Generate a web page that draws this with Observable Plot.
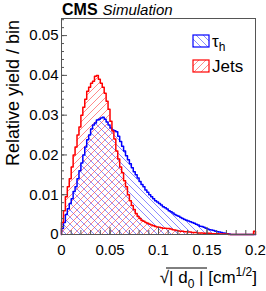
<!DOCTYPE html>
<html><head><meta charset="utf-8">
<script src="https://cdn.jsdelivr.net/npm/d3@7"></script>
<script src="https://cdn.jsdelivr.net/npm/@observablehq/plot@0.6"></script>
<style>body{margin:0;background:#fff}svg{display:block}</style>
</head><body><div id="chart"></div>
<script>
const xRange = [0, 0.2];
const nBins = 100;
const tauValues = [
0.0015,0.003,0.005,0.0065,0.0078,0.009,0.0108,0.012,0.014,0.016,
0.018,0.020,0.022,0.0238,0.025,0.0265,0.0275,0.028,0.0288,0.029,
0.0293,0.0295,0.029,0.0283,0.0275,0.0268,0.0263,0.0261,0.0258,0.0247,
0.0234,0.0222,0.021,0.0198,0.0188,0.0178,0.0168,0.0158,0.015,0.0142,
0.0133,0.0126,0.012,0.0112,0.0106,0.010,0.0095,0.009,0.0085,0.0082,
0.0078,0.0074,0.007,0.0067,0.0064,0.006,0.0057,0.0054,0.005,0.0048,
0.0046,0.0043,0.004,0.0038,0.0036,0.0034,0.0032,0.003,0.0028,0.0026,
0.0024,0.0021,0.002,0.0018,0.0016,0.0014,0.0012,0.0011,0.001,0.0008,
0.0007,0.0006,0.0005,0.0004,0.0003,0.0002,0.0001,0,0,0,
0,0,0,0,0,0,0,0,0,0];
const jetValues = [
0.003,0.006,0.0095,0.012,0.014,0.017,0.020,0.022,0.025,0.027,
0.030,0.032,0.034,0.036,0.037,0.038,0.0385,0.0398,0.040,0.039,
0.038,0.037,0.0355,0.0335,0.0315,0.0285,0.026,0.024,0.021,0.019,
0.017,0.0155,0.0135,0.012,0.010,0.0085,0.0073,0.0063,0.0053,0.0045,
0.004,0.0035,0.0033,0.003,0.0028,0.0026,0.0024,0.0022,0.002,0.0019,
0.0018,0.0017,0.0016,0.0016,0.0015,0.0015,0.0014,0.0012,0.0011,0.001,
0.0009,0.0008,0.0008,0.0007,0.0007,0.0006,0.0006,0.0005,0.0005,0.0005,
0.0004,0.0004,0.0004,0.0003,0.0003,0.0003,0.0003,0.0002,0.0002,0.0002,
0.0002,0.0001,0.0001,0.0001,0.0001,0.0001,0,0,0,0,
0,0,0,0,0,0,0,0,0,0.0008];
const yTicks = [0, 0.01, 0.02, 0.03, 0.04, 0.05];
const yTickLabels = ["0", "0.01", "0.02", "0.03", "0.04", "0.05"];
const xTicks = [0, 0.05, 0.1, 0.15, 0.2];
const xTickLabels = ["0", "0.05", "0.1", "0.15", "0.2"];
const seriesNames = ["τ", "Jets"];
const seriesColors = ["#0000ff", "#ff0000"];

const W = 266, H = 291, mL = 61, mR = 11, mT = 18, mB = 57;
const pw = W - mL - mR, ph = H - mT - mB;
const bw = (xRange[1] - xRange[0]) / nBins;
const pts = vals => vals.map((v, i) => ({x: xRange[0] + i * bw, y: v})).concat([{x: xRange[1], y: vals[vals.length - 1]}]);
const outline = vals => [{x: xRange[0], y: 0}].concat(pts(vals), [{x: xRange[1], y: 0}]);
const yMinor = d3.range(0, 0.0541, 0.002);
const xMinor = d3.range(0, 0.2001, 0.01);
const font = "'Liberation Sans', Arial, Helvetica, sans-serif";

const chart = Plot.plot({
  width: W, height: H,
  marginLeft: mL, marginRight: mR, marginTop: mT, marginBottom: mB,
  style: {fontFamily: font, fontSize: "14px", color: "#000", background: "#fff"},
  x: {domain: xRange},
  y: {domain: [0, 0.0543]},
  marks: [
    Plot.areaY(pts(tauValues), {x: "x", y: "y", curve: "step-after", fill: "url(#hatchBlue)"}),
    Plot.areaY(pts(jetValues), {x: "x", y: "y", curve: "step-after", fill: "url(#hatchRed)"}),
    Plot.lineY(outline(tauValues), {x: "x", y: "y", curve: "step-after", stroke: seriesColors[0], strokeWidth: 1.5}),
    Plot.lineY(outline(jetValues), {x: "x", y: "y", curve: "step-after", stroke: seriesColors[1], strokeWidth: 1.5}),
    Plot.tickY(yMinor, {y: d => d, stroke: "#555", insetRight: pw - 3}),
    Plot.tickY(yTicks, {y: d => d, stroke: "#555", insetRight: pw - 6}),
    Plot.tickX(xMinor, {x: d => d, stroke: "#555", insetTop: ph - 4}),
    Plot.tickX(xTicks, {x: d => d, stroke: "#555", insetTop: ph - 7}),
    Plot.axisY(yTicks, {tickSize: 0, tickPadding: 3, tickFormat: d => yTickLabels[yTicks.indexOf(d)], label: null, fontSize: 15}),
    Plot.axisX(xTicks, {tickSize: 0, tickPadding: 10, tickFormat: d => xTickLabels[xTicks.indexOf(d)], label: null, fontSize: 15}),
    Plot.frame({stroke: "#555"})
  ]
});
document.getElementById("chart").appendChild(chart);

const svg = d3.select(chart);
const defs = svg.insert("defs", ":first-child");
const pb = defs.append("pattern").attr("id", "hatchBlue").attr("patternUnits", "userSpaceOnUse").attr("width", 7).attr("height", 7);
pb.append("path").attr("d", "M0,0L7,7M-1,6L1,8M6,-1L8,1").attr("stroke", "#3a3aff").attr("stroke-width", 0.8).attr("stroke-opacity", 0.75);
const pr = defs.append("pattern").attr("id", "hatchRed").attr("patternUnits", "userSpaceOnUse").attr("width", 7).attr("height", 7);
pr.append("path").attr("d", "M0,7L7,0M-1,1L1,-1M6,8L8,6").attr("stroke", "#ff3a3a").attr("stroke-width", 0.8).attr("stroke-opacity", 0.75);

// title
const t = svg.append("text").attr("x", 62).attr("y", 15).attr("text-anchor", "start").attr("font-family", font).attr("font-size", 16);
t.append("tspan").attr("font-weight", "bold").text("CMS");
t.append("tspan").attr("font-style", "italic").attr("font-size", 15).attr("dx", 5).text("Simulation");

// y label
svg.append("text").attr("transform", "translate(19,20) rotate(-90)").attr("text-anchor", "end")
  .attr("font-family", font).attr("font-size", 18).text("Relative yield / bin");

// x label
const xl = svg.append("text").attr("x", 257).attr("y", 283).attr("text-anchor", "end").attr("font-family", font).attr("font-size", 17);
xl.append("tspan").text("√");
xl.append("tspan").text("| d");
xl.append("tspan").attr("font-size", 12).attr("dy", 5).text("0");
xl.append("tspan").attr("dy", -5).text(" |");
xl.append("tspan").text(" [cm");
xl.append("tspan").attr("font-size", 12).attr("dy", -7).text("1/2");
xl.append("tspan").attr("dy", 7).text("]");
// overline of the radical
svg.append("line").attr("x1", 166).attr("x2", 207).attr("y1", 268).attr("y2", 268).attr("stroke", "#000").attr("stroke-width", 1);

// legend
const leg = [{y: 35, fill: "url(#hatchBlue)", c: seriesColors[0]}, {y: 60, fill: "url(#hatchRed)", c: seriesColors[1]}];
leg.forEach((d, i) => {
  svg.append("rect").attr("x", 193).attr("y", d.y).attr("width", 16).attr("height", 12).attr("fill", d.fill).attr("stroke", d.c).attr("stroke-width", 1.2);
  const lt = svg.append("text").attr("x", 212).attr("y", d.y + 12).attr("text-anchor", "start").attr("font-family", font).attr("font-size", 17);
  lt.append("tspan").text(seriesNames[i]);
  if (i === 0) lt.append("tspan").attr("font-size", 12).attr("dy", 4).text("h");
});
</script></body></html>
